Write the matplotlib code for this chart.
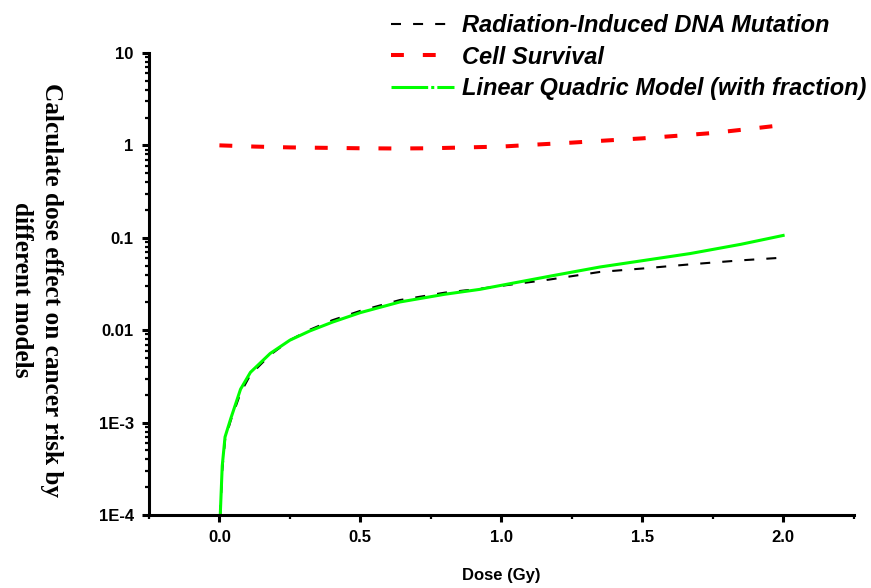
import matplotlib
matplotlib.use("Agg")
import matplotlib.pyplot as plt
from matplotlib.lines import Line2D

# values
dose_dna = [0.003, 0.01, 0.02, 0.04, 0.075, 0.11, 0.18, 0.25, 0.32, 0.4, 0.5,
            0.64, 0.8, 0.925, 1.0, 1.17, 1.35, 1.5, 1.67, 1.85, 2.0]
dna_mutation = [1e-4, 3.0e-4, 6.5e-4, 1.05e-3, 2.1e-3, 3.3e-3, 5.4e-3, 7.8e-3, 0.0101, 0.0128, 0.0162,
                0.0212, 0.0255, 0.0281, 0.0302, 0.0353, 0.0427, 0.0465, 0.0516, 0.057, 0.061]

dose_lq = [0.003, 0.01, 0.02, 0.04, 0.075, 0.11, 0.18, 0.25, 0.32, 0.4, 0.5,
           0.64, 0.8, 0.925, 1.0, 1.17, 1.35, 1.5, 1.67, 1.85, 2.0]
lq_fraction = [1e-4, 3.4e-4, 7.0e-4, 1.1e-3, 2.3e-3, 3.5e-3, 5.6e-3, 7.8e-3, 0.0098, 0.0122, 0.0155,
               0.0202, 0.0245, 0.0277, 0.0306, 0.0383, 0.0483, 0.0565, 0.0675, 0.085, 0.106]

dose_cs = [0.0, 0.125, 0.25, 0.375, 0.5, 0.625, 0.75, 0.875, 1.0,
           1.125, 1.25, 1.375, 1.5, 1.625, 1.75, 1.875, 2.0]
cell_survival = [1.0, 0.97, 0.95, 0.94, 0.93, 0.925, 0.93, 0.95, 0.97,
                 1.02, 1.07, 1.13, 1.19, 1.27, 1.36, 1.50, 1.66]

x_ticks = [0.0, 0.5, 1.0, 1.5, 2.0]
x_labels = ["0.0", "0.5", "1.0", "1.5", "2.0"]
y_ticks = [1e-4, 1e-3, 1e-2, 1e-1, 1, 10]
y_labels = ["1E-4", "1E-3", "0.01", "0.1", "1", "10"]

sans = "Liberation Sans"
serif = "Liberation Serif"

fig = plt.figure(figsize=(8.71, 5.88), dpi=100)
ax = fig.add_axes([0.171, 0.124, 0.809, 0.786])

ax.plot(dose_dna, dna_mutation, color="black", lw=1.5, dashes=(4.8, 5.8))
ax.plot(dose_cs, cell_survival, color="red", lw=2.9, dashes=(3.2, 4.7))
ax.plot(dose_lq, lq_fraction, color="#00ff00", lw=2.2)

ax.set_yscale("log")
ax.set_xlim(-0.25, 2.25)
ax.set_ylim(1e-4, 10)

ax.set_xticks(x_ticks)
ax.set_xticklabels(x_labels)
ax.set_xticks([-0.25, 0.25, 0.75, 1.25, 1.75, 2.25], minor=True)
ax.set_yticks(y_ticks)
ax.set_yticklabels(y_labels)

for side in ("top", "right"):
    ax.spines[side].set_visible(False)
for side in ("left", "bottom"):
    ax.spines[side].set_linewidth(2.2)

ax.tick_params(which="major", direction="out", length=5, width=2.2, pad=6)
ax.tick_params(which="minor", direction="out", length=3, width=1.6)
for lab in ax.get_xticklabels() + ax.get_yticklabels():
    lab.set_fontfamily(sans)
    lab.set_fontweight("bold")
    lab.set_fontsize(12)

ax.set_xlabel("Dose (Gy)", fontfamily=sans, fontweight="bold", fontsize=12, labelpad=16)
fig.text(0.042, 0.507, "Calculate dose effect on cancer risk by\ndifferent models",
         rotation=270, ha="center", va="center", multialignment="center",
         fontfamily=serif, fontweight="bold", fontsize=18.2, linespacing=1.4)

handles = [
    Line2D([], [], color="black", lw=1.5, dashes=(4.8, 5.8)),
    Line2D([], [], color="red", lw=2.9, dashes=(3.2, 4.7)),
    Line2D([], [], color="#00ff00", lw=2.2, dashes=(12, 1, 1, 1)),
]
labels = ["Radiation-Induced DNA Mutation", "Cell Survival", "Linear Quadric Model (with fraction)"]
fig.legend(handles, labels, loc="upper right", bbox_to_anchor=(1.005, 0.992), frameon=False,
           borderaxespad=0,
           prop={"family": sans, "weight": "bold", "style": "italic", "size": 17},
           handlelength=2.7, handletextpad=0.3, labelspacing=0.36)

fig.savefig("out.png", dpi=100)
